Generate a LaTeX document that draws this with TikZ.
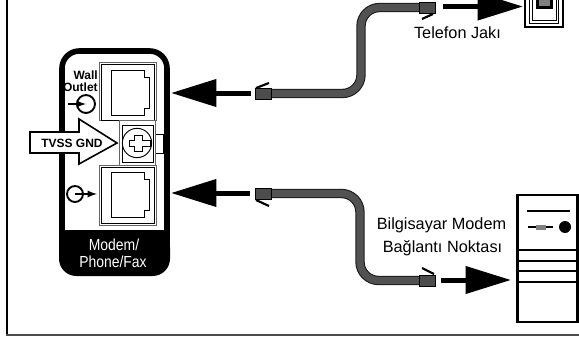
\documentclass[tikz,border=0pt]{standalone}
\usepackage{fontspec}
\setmainfont{Liberation Sans}
\usetikzlibrary{arrows.meta}
\tikzset{
    label/.style={font=\fontsize{12.2}{14}\selectfont,inner sep=0pt},
    boldlabel/.style={font=\fontsize{9}{10}\selectfont\bfseries,inner sep=0pt},
    whitelabel/.style={font=\fontsize{12}{13}\selectfont,text=white,inner sep=0pt,xscale=0.87},
    bigarrow/.style={line width=3.75pt,-{Triangle[length=34pt,width=20pt,sep=0pt]}},
    cableout/.style={line width=7pt,rounded corners=14pt,black!90},
    cablein/.style={line width=5.4pt,rounded corners=14pt,black!68},
    plug/.style={draw=black,line width=0.6pt,fill=black!70,minimum width=12.4pt,minimum height=8.2pt,inner sep=0pt},
    latch/.style={line width=1.6pt},
    jack/.style={draw=black,line width=0.6pt,fill=white},
    jackedge/.style={draw=black!60,line width=0.6pt,fill=white},
    rule/.style={line width=1.5pt},
}
\begin{document}
\begin{tikzpicture}[x=0.75pt,y=-0.75pt,>=latex]
    \useasboundingbox (0,0) rectangle (579,336);
    % frame
    \draw[line width=1.5pt](7,0)--(7,334);
    \draw[line width=1.5pt,black!70](6,334.5)--(579,334.5);
    % modem panel
    \draw[line width=4.2pt,fill=white,rounded corners=13pt](62,51)rectangle(167,273);
    \fill[rounded corners=13pt](59,230)--(59,276)--(170,276)--(170,230)--cycle;
    \fill(59,230)rectangle(170,248);
    \node[whitelabel] (modem) at(114,245){Modem/};
    \node[whitelabel] (phone) at(113,262){Phone/Fax};
    % upper jack
    \draw[jackedge](99,62)rectangle(156,120);
    \draw[jack](101,64)rectangle(154,120);
    \draw[jack](111,70)--(144,70)--(144,77)--(149,77)--(149,108)--(144,108)--(144,115)--(111,115)--cycle;
    % lower jack
    \draw[jackedge](99,165)rectangle(156,225);
    \draw[jack](101,167)rectangle(154,223);
    \draw[jack](111,172)--(144,172)--(144,179)--(149,179)--(149,210)--(144,210)--(144,217)--(111,217)--cycle;
    % ground screw
    \draw[jack](154,134)rectangle(163,153);
    \draw[jackedge](119,120)rectangle(155,165);
    \draw[jack](122,125)rectangle(153,162);
    \node[draw,circle,line width=0.7pt,minimum size=22pt,inner sep=0pt] (screw) at(137,143){};
    \draw[line width=0.7pt](134,135)--(142,135)--(142,140)--(150,140)--(150,146)--(142,146)--(142,151)--(134,151)--(134,146)--(129,146)--(129,140)--(134,140)--cycle;
    % labels on the panel
    \node[boldlabel,anchor=east] (wall) at(98,75){Wall};
    \node[boldlabel,anchor=east] (outlet) at(98,87){Outlet};
    \node[draw,circle,line width=1.4pt,minimum size=13.5pt,inner sep=0pt] (lineiconup) at(86,104){};
    \coordinate (lineinup) at(68,104);
    \draw[->,line width=1.4pt](lineinup)--(lineiconup.center);
    \node[draw,circle,line width=1.4pt,minimum size=12pt,inner sep=0pt] (lineicondown) at(75,194){};
    \coordinate (lineoutdown) at(97,194);
    \draw[->,line width=1.4pt](lineicondown.center)--(lineoutdown);
    % ground arrow
    \draw[line width=1.2pt,fill=white](30,132)--(79,132)--(79,119)--(117,143)--(79,164)--(79,153)--(30,153)--cycle;
    \node[boldlabel] (gnd) at(72,143){TVSS GND};
    % upper cable
    \node[plug] (plugup) at(263.5,93.5){};
    \node[plug] (plugjack) at(427.5,7.5){};
    \coordinate (bendupa) at(361,93.5);
    \coordinate (bendupb) at(361,7.5);
    \draw[cableout](plugup.east)--(bendupa)--(bendupb)--(plugjack.west);
    \draw[cablein](plugup.east)--(bendupa)--(bendupb)--(plugjack.west);
    \draw[latch](256,88)--(269,83);
    \draw[latch](422,19)--(433,14);
    % lower cable
    \node[plug] (plugdown) at(263.5,193.5){};
    \node[plug] (plugpc) at(427.5,280.5){};
    \coordinate (benddowna) at(360,193.5);
    \coordinate (benddownb) at(360,280.5);
    \draw[cableout](plugdown.east)--(benddowna)--(benddownb)--(plugpc.west);
    \draw[cablein](plugdown.east)--(benddowna)--(benddownb)--(plugpc.west);
    \draw[latch](256,200)--(269,206);
    \draw[latch](422,268)--(434,274);
    % big arrows
    \coordinate (upstart) at(251,93);
    \coordinate (upend) at(171,93);
    \coordinate (downstart) at(250,193);
    \coordinate (downend) at(171,193);
    \coordinate (jackstart) at(443,6.5);
    \coordinate (jackend) at(523,6.5);
    \coordinate (pcstart) at(441,280);
    \coordinate (pcend) at(511,280);
    \draw[bigarrow](upstart)--(upend);
    \draw[bigarrow](downstart)--(downend);
    \draw[bigarrow](jackstart)--(jackend);
    \draw[bigarrow](pcstart)--(pcend);
    % wall jack
    \draw[line width=0.8pt](525,-2)rectangle(563,27);
    \draw[line width=0.7pt](529,-2)rectangle(558,23);
    \draw[line width=0.7pt](532,-2)rectangle(556,20);
    \fill(536,-2)rectangle(553,9);
    \fill[black!50](539,-2)rectangle(550,6);
    \node[label] (jacktext) at(457.5,33){Telefon Jakı};
    % computer
    \draw[line width=2pt](517.5,195)rectangle(577.5,322);
    \draw[rule](527,210.5)--(570,210.5);
    \draw[rule](528,227)--(553,227);
    \fill[black!50](536,225)rectangle(546,229.5);
    \node[fill,circle,minimum size=9pt,inner sep=0pt] (pcled) at(565,227){};
    \foreach \y in {250,261,271,282}
        \draw[rule](518,\y)--(577,\y);
    \node[label] (pctexta) at(441.5,225){Bilgisayar Modem};
    \node[label] (pctextb) at(442.5,248){Bağlantı Noktası};
\end{tikzpicture}
\end{document}
